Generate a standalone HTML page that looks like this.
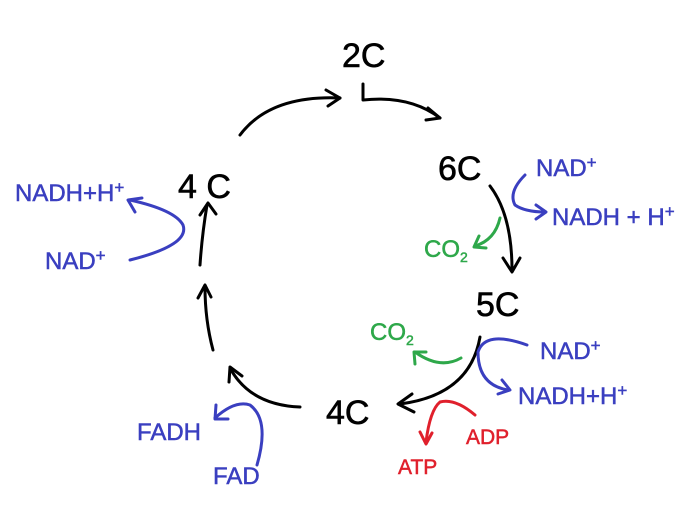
<!DOCTYPE html>
<html><head><meta charset="utf-8"><style>
html,body{margin:0;padding:0;background:#fff;}
svg{display:block;}
text{font-family:"Liberation Sans",sans-serif;}
.k{fill:#000;font-size:34px;stroke:#000;stroke-width:0.6;}
.b{fill:#3a3fc0;font-size:24px;stroke:#3a3fc0;stroke-width:0.5;}
.g{fill:#2ea84a;font-size:24px;stroke:#2ea84a;stroke-width:0.5;}
.r{fill:#e0202c;font-size:21px;stroke:#e0202c;stroke-width:0.5;}
path{fill:none;stroke-width:3;stroke-linecap:round;stroke-linejoin:round;}
.pk{stroke:#000;}.pb{stroke:#3a3fc0;}.pg{stroke:#2ea84a;}.pr{stroke:#e0202c;}
</style></head><body>
<svg width="697" height="514" viewBox="0 0 697 514">
<text class="k" x="342" y="67">2C</text>
<text class="k" x="438" y="180">6C</text>
<text class="k" x="476" y="316">5C</text>
<text class="k" x="326" y="424">4C</text>
<text class="k" x="178" y="198">4 C</text>

<path class="pk" d="M363 84 L363 100 Q410 95 440 118"/>
<path class="pk" d="M428 108 L440 118 L426 120"/>
<path class="pk" d="M240 135 Q270 95 340 98"/>
<path class="pk" d="M326 90 L340 98 L328 106"/>
<path class="pk" d="M490 186 Q512 215 512 270"/>
<path class="pk" d="M503 258 L512 272 L520 258"/>
<path class="pk" d="M480 337 Q470 395 400 404"/>
<path class="pk" d="M412 394 L398 404 L414 412"/>
<path class="pk" d="M300 407 Q250 405 230 368"/>
<path class="pk" d="M229 382 L230 367 L242 376"/>
<path class="pk" d="M213 350 Q205 320 205 287"/>
<path class="pk" d="M198 298 L205 285 L211 297"/>
<path class="pk" d="M200 265 Q202 235 207 205"/>
<path class="pk" d="M200 215 L208 203 L216 214"/>

<text class="b" x="536" y="176">NAD<tspan dy="-8" font-size="17">+</tspan></text>
<text class="b" x="552" y="225">NADH + H<tspan dy="-8" font-size="17">+</tspan></text>
<path class="pb" d="M525 175 Q508 192 515 205 Q525 212 545 212"/>
<path class="pb" d="M536 205 L546 212 L536 219"/>
<text class="b" x="540" y="359">NAD<tspan dy="-8" font-size="17">+</tspan></text>
<text class="b" x="518" y="404">NADH+H<tspan dy="-8" font-size="17">+</tspan></text>
<path class="pb" d="M527 345 Q485 330 478 352 Q478 385 508 390"/>
<path class="pb" d="M502 380 L510 390 L498 394"/>
<text class="b" x="15" y="201">NADH+H<tspan dy="-8" font-size="17">+</tspan></text>
<text class="b" x="45" y="269">NAD<tspan dy="-8" font-size="17">+</tspan></text>
<path class="pb" d="M130 260 Q190 245 183 225 Q175 210 130 200"/>
<path class="pb" d="M135 212 L128 200 L142 198"/>
<text class="b" x="137" y="440" font-size="21">FADH</text>
<text class="b" x="213" y="484" font-size="21">FAD</text>
<path class="pb" d="M257 465 Q270 420 250 405 Q235 400 215 418"/>
<path class="pb" d="M216 405 L215 419 L228 419"/>

<text class="g" x="424" y="257">CO<tspan dy="5" font-size="14">2</tspan></text>
<path class="pg" d="M500 218 Q495 240 475 246"/>
<path class="pg" d="M479 236 L474 247 L486 248"/>
<text class="g" x="370" y="340">CO<tspan dy="5" font-size="14">2</tspan></text>
<path class="pg" d="M461 358 Q440 370 415 352"/>
<path class="pg" d="M415 364 L414 352 L426 352"/>

<text class="r" x="466" y="444">ADP</text>
<text class="r" x="398" y="474">ATP</text>
<path class="pr" d="M475 415 Q455 398 440 402 Q430 410 426 442"/>
<path class="pr" d="M420 432 L426 444 L432 433"/>
</svg>
</body></html>
